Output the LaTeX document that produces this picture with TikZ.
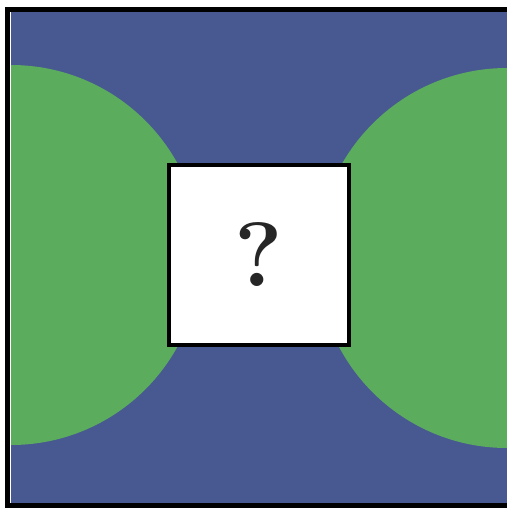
\documentclass[tikz,border=0pt]{standalone}
\definecolor{azulk}{RGB}{72, 88, 145}
\definecolor{verdek}{RGB}{92, 172, 94}
\usepackage{tikz}
\usetikzlibrary{positioning}

\begin{document}
\begin{tikzpicture}[x=0.02cm,y=-0.02cm]
    \useasboundingbox (0,0) rectangle (507,508);
    \fill[white] (0,0) rectangle (507,508);
    \begin{scope}
      \clip (11,12) rectangle (507,503);
      \fill[azulk] (11,12) rectangle (507,503);
      \fill[verdek] (11,255) circle[radius=190];
      \fill[verdek] (507,258) circle[radius=190];
    \end{scope}
    \draw[black,line width=0.11cm] (507,9.5) -- (7.5,9.5) -- (7.5,505.5) -- (507,505.5);
    \node[draw=black,fill=white,line width=0.07cm,minimum size=3.6cm,inner sep=0pt,
          font=\fontsize{52}{52}\selectfont\bfseries,text=black!85] (box) at (259,255) {?};
  \end{tikzpicture}
\end{document}
